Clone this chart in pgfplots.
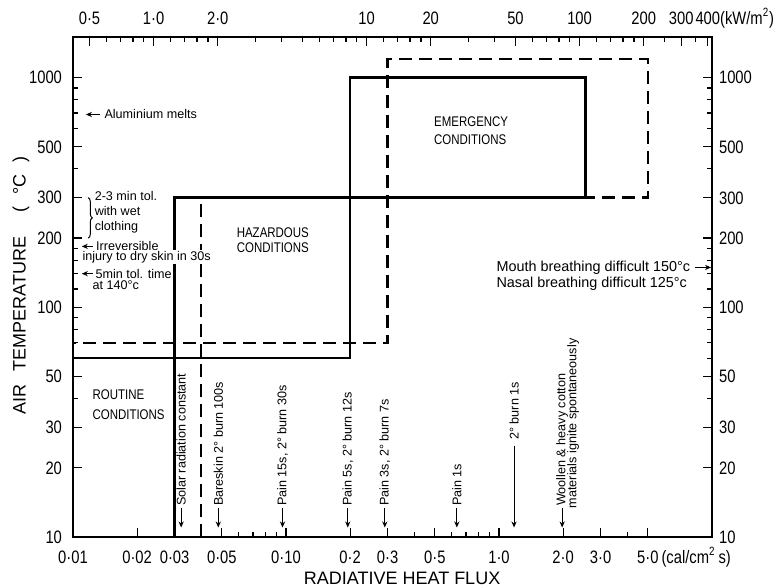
\documentclass[border=0pt]{standalone}
\usepackage{pgfplots}
\pgfplotsset{compat=1.18}
\usepackage{fontspec}
\setmainfont{Liberation Sans}
\newfontfamily\condf[FakeStretch=0.82]{Liberation Sans}
\usetikzlibrary{arrows.meta,decorations.pathreplacing}

\newcommand\tklab{\condf\fontsize{9}{10}\selectfont}
\newcommand\annf{\fontsize{6.3}{7.5}\selectfont}

\tikzset{
  vlab/.style={rotate=90, anchor=west, font=\annf, inner sep=0pt},
  arw/.style={-{Stealth[length=3pt,width=2.6pt]}, line width=0.5pt},
}

\begin{document}
\begin{tikzpicture}
\begin{axis}[name=main,
  scale only axis, width=319.5pt, height=250pt,
  xmode=log, ymode=log, ymin=10, ymax=1500, xmin=0.01, xmax=10,
  axis line style={line width=1pt},
  major tick style={black, line width=0.6pt},
  minor tick style={black, line width=0.6pt},
  major tick length=4.5pt, minor tick length=2.5pt,
  tick align=inside,
  ticklabel style={font=\tklab, text height=6.4pt, text depth=0pt},
  xticklabel style={anchor=center, yshift=-10pt},
  yticklabel style={anchor=east, xshift=-2pt},
  clip=false,
  ytick={10,20,30,50,100,200,300,500,1000},
  yticklabels={10,20,30,50,100,200,300,500,1000},
  minor ytick={40,60,70,80,90,120,140,160,180,400,600,700,800,900},
  xtick pos=bottom, ytick pos=left,
  xtick={0.01,0.02,0.03,0.05,0.1,0.2,0.3,0.5,1,2,3,5},
  xticklabels={0·01,0·02,0·03,0·05,0·10,0·2,0·3,0·5,1·0,2·0,3·0,{\hphantom{\,(cal/cm\textsuperscript{2}\,s)}5·0\,(cal/cm\textsuperscript{2}\,s)}},
  minor xtick={0.04,0.06,0.07,0.08,0.09,0.4,0.6,0.7,0.8,0.9,4},
  xlabel={RADIATIVE HEAT FLUX},
  xlabel style={font=\fontsize{9}{10}\selectfont, at={(axis description cs:0.515,0)}, anchor=center, yshift=-20.5pt},
  ylabel={AIR\hspace{6.5pt}TEMPERATURE\hspace{12pt}(\hspace{6pt}°C\hspace{6pt})},
  ylabel style={font=\fontsize{9}{10}\selectfont, at={(axis description cs:-0.0814,0.503)}, anchor=center},
]
% solid boundary
\addplot[black, line width=1.2pt, line join=miter] coordinates {
  (0.03,10) (0.03,300) (2.55,300) (2.55,1000) (0.2,1000) (0.2,60) (0.01,60)};
% dashed boundary
\addplot[black, line width=1.2pt, dash pattern=on 6.5pt off 3.5pt] coordinates {
  (0.04,10) (0.04,300) (5,300) (5,1200) (0.3,1200) (0.3,70) (0.01,70)};

% region labels
\node[anchor=west, align=left, inner sep=0pt, font=\condf\fontsize{7}{10}\selectfont] at (axis cs:0.0123,37.5) {ROUTINE\\CONDITIONS};
\node[anchor=west, align=left, inner sep=0pt, font=\condf\fontsize{7}{7.5}\selectfont] at (axis cs:0.0585,196) {HAZARDOUS\\CONDITIONS};
\node[anchor=west, align=left, inner sep=0pt, font=\condf\fontsize{7}{9}\selectfont] at (axis cs:0.494,589) {EMERGENCY\\CONDITIONS};

% left annotations
\draw[arw] (axis cs:0.0134,690) -- (axis cs:0.0115,690);
\node[anchor=west, font=\annf, inner sep=0pt] at (axis cs:0.0140,690) {Aluminium melts};
\draw[line width=0.5pt, decorate, decoration={brace,amplitude=2pt}] (axis cs:0.0118,300) -- (axis cs:0.0118,200);
\node[anchor=north west, align=left, inner sep=0pt, font=\annf] at (axis cs:0.0126,322) {2-3 min tol.\\with wet\\clothing};
\draw[arw] (axis cs:0.0124,184) -- (axis cs:0.0110,184);
\node[anchor=west, font=\annf, inner sep=0pt] at (axis cs:0.0128,184) {Irreversible};
\node[anchor=west, font=\annf, fill=white, inner sep=0.6pt] at (axis cs:0.0109,165) {injury to dry skin in 30s};
\draw[arw] (axis cs:0.0124,140) -- (axis cs:0.0110,140);
\node[anchor=west, font=\annf, inner sep=0pt] at (axis cs:0.0127,140) {5min tol. time};
\node[anchor=west, font=\annf, inner sep=0pt] at (axis cs:0.0123,125) {at 140°c};

% right annotations
\node[anchor=west, font=\fontsize{7.2}{8}\selectfont, inner sep=0pt] (mouth) at (axis cs:0.97,149) {Mouth breathing difficult 150°c};
\draw[arw] ([xshift=2pt]mouth.east) -- (axis cs:9.9,149);
\node[anchor=west, font=\fontsize{7.2}{8}\selectfont, inner sep=0pt] at (axis cs:0.97,127) {Nasal breathing difficult 125°c};

% bottom vertical annotations
\draw[arw] (axis cs:0.0322,13.4) -- (axis cs:0.0322,11.0);
\node[vlab] at (axis cs:0.0322,13.6) {Solar radiation constant};
\draw[arw] (axis cs:0.0481,13.4) -- (axis cs:0.0481,11.0);
\node[vlab] at (axis cs:0.0481,13.6) {Bareskin 2° burn 100s};
\draw[arw] (axis cs:0.0963,13.4) -- (axis cs:0.0963,11.0);
\node[vlab] at (axis cs:0.0963,13.6) {Pain 15s, 2° burn 30s};
\draw[arw] (axis cs:0.195,13.4) -- (axis cs:0.195,11.0);
\node[vlab] at (axis cs:0.195,13.6) {Pain 5s, 2° burn 12s};
\draw[arw] (axis cs:0.291,13.4) -- (axis cs:0.291,11.0);
\node[vlab] at (axis cs:0.291,13.6) {Pain 3s, 2° burn 7s};
\draw[arw] (axis cs:0.634,13.4) -- (axis cs:0.634,11.0);
\node[vlab] at (axis cs:0.634,13.6) {Pain 1s};
\draw[arw] (axis cs:1.177,25.0) -- (axis cs:1.177,11.0);
\node[vlab] at (axis cs:1.177,26.4) {2° burn 1s};
\draw[arw] (axis cs:1.98,13.4) -- (axis cs:1.98,11.0);
\node[vlab] at (axis cs:1.98,13.6) {Woollen \& heavy cotton};
\node[vlab] at (axis cs:2.23,13.3) {materials ignite spontaneously};
\end{axis}

\begin{axis}[
  scale only axis, width=319.5pt, height=250pt,
  xmode=log, ymode=log, ymin=10, ymax=1500, xmin=0.4184, xmax=418.4,
  axis line style={line width=1pt},
  major tick style={black, line width=0.6pt},
  minor tick style={black, line width=0.6pt},
  major tick length=4.5pt, minor tick length=2.5pt,
  tick align=inside,
  ticklabel style={font=\tklab, text height=6.4pt, text depth=0pt},
  xticklabel style={anchor=center, yshift=9.5pt},
  yticklabel style={anchor=west},
  ytick={10,20,30,50,100,200,300,500,1000},
  yticklabels={10,20,30,50,100,200,300,500,1000},
  minor ytick={40,60,70,80,90,120,140,160,180,400,600,700,800,900},
  xtick pos=top, xticklabel pos=top, ytick pos=right, yticklabel pos=right,
  xtick={0.5,1,2,10,20,50,100,200,300,400},
  xticklabels={0·5,1·0,2·0,10,20,50,100,200,300,{\hphantom{(kW/m\textsuperscript{2})}400(kW/m\textsuperscript{2})}},
  minor xtick={0.6,0.7,0.8,0.9,1.2,1.4,1.6,1.8,3,4,5,6,7,8,9,12,14,16,18,30,40,60,70,80,90,120,140,160,180,250,350},
]
\end{axis}
\pgfresetboundingbox
\path ([shift={(-36.5pt,-24.5pt)}]main.south west) rectangle ([shift={(32.5pt,18.5pt)}]main.north east);
\end{tikzpicture}
\end{document}
